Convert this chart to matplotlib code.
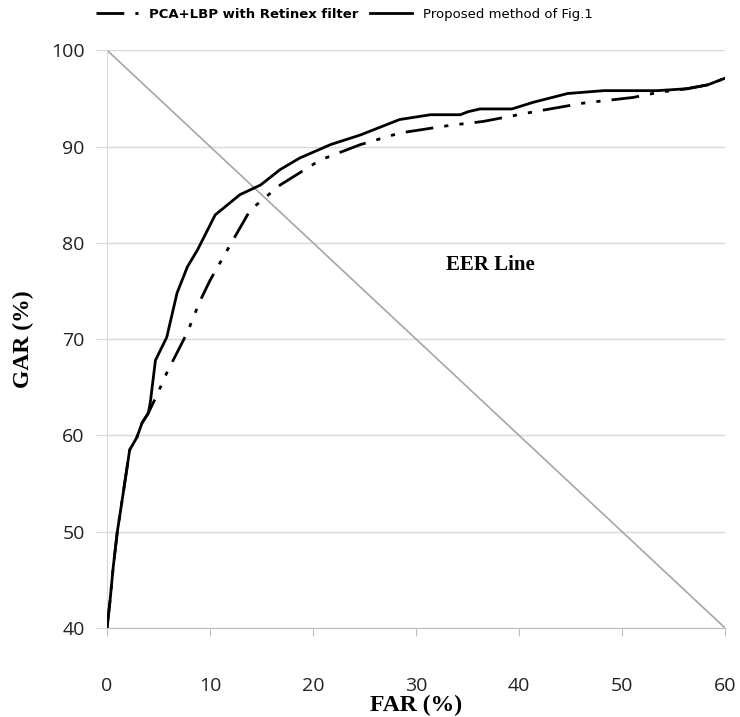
import matplotlib
matplotlib.use("Agg")
import matplotlib.pyplot as plt
from matplotlib.lines import Line2D

# proposed method (solid)
prop_far = [0, 0.3, 0.6, 1.0, 1.5, 2.2, 2.9, 3.4, 4.0, 4.2, 4.7, 5.8, 6.8, 7.8, 8.8,
            10.5, 12.9, 14.9, 16.8, 18.7, 21.7, 24.6, 28.4, 31.4, 34.3, 35.0, 36.2,
            39.3, 41.4, 44.7, 48.2, 53.4, 56.3, 58.3, 60.0]
prop_gar = [40, 42.9, 46.3, 50.0, 53.5, 58.5, 59.8, 61.3, 62.3, 63.4, 67.8, 70.2, 74.8,
            77.5, 79.3, 82.9, 85.0, 86.0, 87.6, 88.8, 90.2, 91.2, 92.8, 93.3, 93.3, 93.6,
            93.9, 93.9, 94.6, 95.5, 95.8, 95.8, 96.0, 96.4, 97.1]

# PCA+LBP with Retinex filter (dash-dot)
pca_far = [0, 0.3, 0.6, 1.0, 1.5, 2.2, 2.9, 3.4, 4.0, 4.85, 5.3, 5.8, 6.8, 7.8, 9.0,
           10.0, 11.7, 13.9, 16.8, 20.7, 24.6, 28.4, 33.3, 36.5, 41.4, 46.2, 51.1,
           53.4, 56.3, 58.3, 60.0]
pca_gar = [40, 42.9, 46.3, 50.0, 53.5, 58.5, 59.8, 61.3, 62.3, 64.2, 65.3, 66.5, 68.6,
           70.7, 73.9, 76.1, 79.3, 83.4, 86.0, 88.6, 90.2, 91.4, 92.2, 92.6, 93.6, 94.5,
           95.1, 95.6, 96.0, 96.4, 97.1]

eer_far = [0, 60]
eer_gar = [100, 40]

fig = plt.figure(figsize=(7.4, 7.17), dpi=100)
ax = fig.add_axes([0.1446, 0.124, 0.8354, 0.806])

ax.plot(eer_far, eer_gar, color="#a6a6a6", lw=1.2, zorder=2)
ax.plot(pca_far, pca_gar, color="black", lw=2.0, linestyle=(0, (10, 4, 1.5, 4, 1.5, 4)), zorder=3)
ax.plot(prop_far, prop_gar, color="black", lw=2.0, zorder=4)

ax.set_xlim(0, 60)
ax.set_ylim(40, 100)
ax.set_xticks(range(0, 61, 10))
ax.set_yticks(range(40, 101, 10))
ax.yaxis.grid(True, color="#d9d9d9", lw=1)
ax.set_axisbelow(True)
for s in ["top", "right"]:
    ax.spines[s].set_visible(False)
ax.spines["left"].set_color("#d9d9d9")
ax.spines["bottom"].set_color("#bfbfbf")
ax.tick_params(axis="y", length=8, color="#d9d9d9", labelsize=14, pad=8)
ax.tick_params(axis="x", length=6, direction="out", color="#bfbfbf", labelsize=14, pad=29)
for lab in ax.get_xticklabels() + ax.get_yticklabels():
    lab.set_family("Open Sans")
    lab.set_color("#222222")

ax.set_xlabel("FAR (%)", family="Liberation Serif", weight="bold", fontsize=17, labelpad=0)
ax.set_ylabel("GAR (%)", family="Liberation Serif", weight="bold", fontsize=17, labelpad=12)

ax.text(37.2, 77.7, "EER Line", family="Liberation Serif", weight="bold", fontsize=15,
        ha="center", va="center")

handles = [Line2D([], [], color="black", lw=2, linestyle=(0, (10, 4, 1.5, 4))),
           Line2D([], [], color="black", lw=2)]
leg = fig.legend(handles, ["PCA+LBP with Retinex filter", "Proposed method of Fig.1"],
                 loc="upper center", bbox_to_anchor=(0.465, 1.006), ncol=2, frameon=False,
                 fontsize=9.5, handlelength=3.2, columnspacing=0.9)
leg.get_texts()[0].set_weight("bold")

fig.savefig("out.png", dpi=100)
